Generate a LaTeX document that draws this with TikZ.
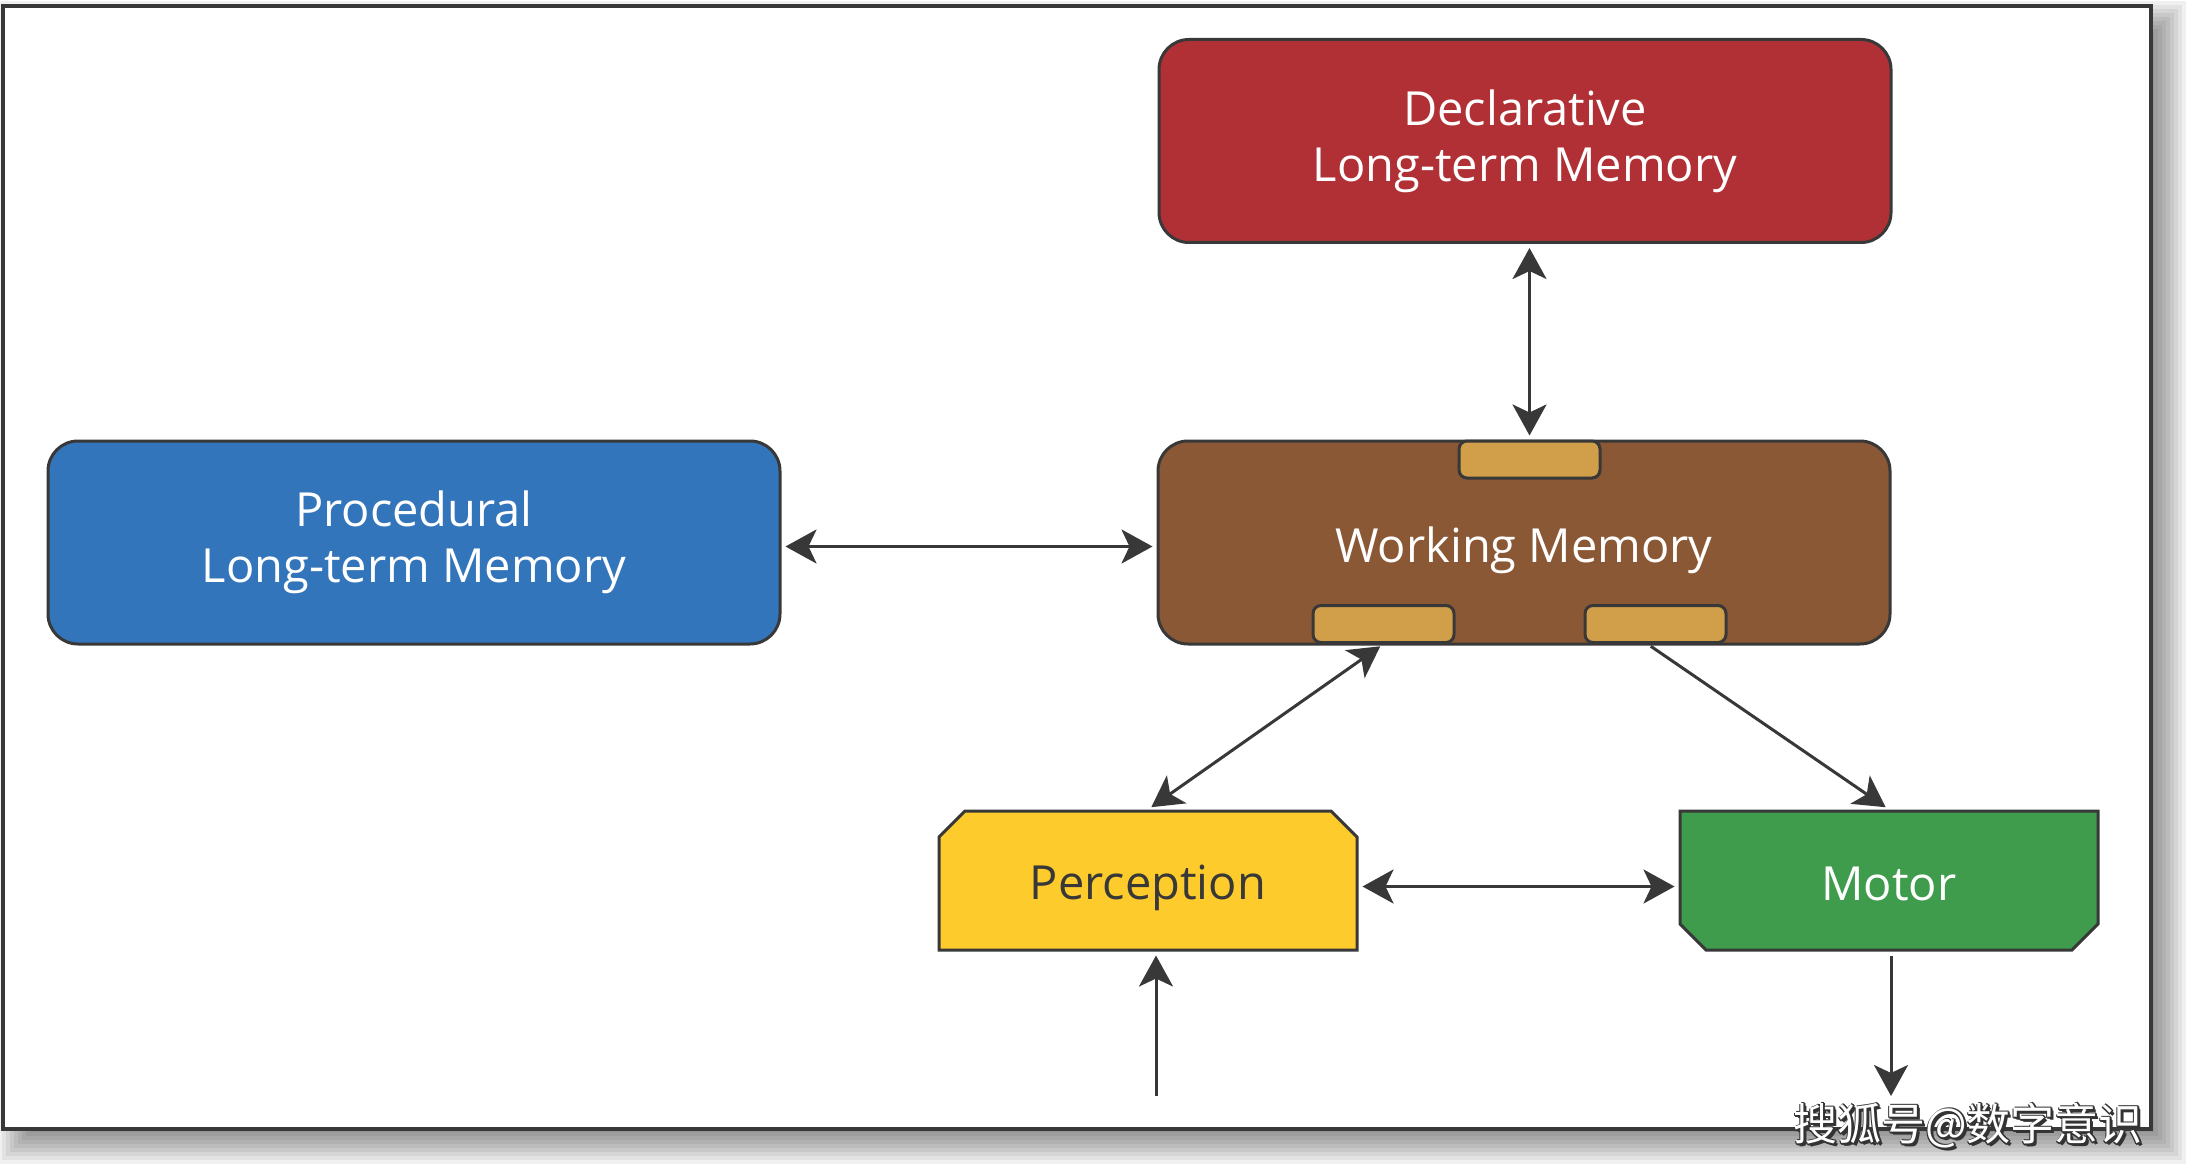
\documentclass[tikz,border=0pt]{standalone}
\usepackage{fontspec}
\setmainfont{Open Sans}
\newfontfamily\cjk{Noto Sans CJK SC}
\usetikzlibrary{arrows.meta,calc,shapes.misc}
\definecolor{lineC}{HTML}{383838}
\definecolor{declC}{HTML}{B03035}
\definecolor{procC}{HTML}{3375BB}
\definecolor{workC}{HTML}{8B5835}
\definecolor{tabC}{HTML}{D19E4A}
\definecolor{percC}{HTML}{FDCB2B}
\definecolor{motC}{HTML}{3E9C4C}
\tikzset{mytip/.tip={Stealth[length=31pt, width=34pt, inset=8pt]}}
\newcommand{\lowertext}[2]{\raisebox{-#1}[\height][\depth]{#2}}
\begin{document}
\begin{tikzpicture}[x=1pt,y=-1pt,
  bigbox/.style={draw=lineC, line width=3pt, rounded corners=30pt,
    minimum width=732pt, minimum height=203pt, text=white, align=center,
    font=\fontsize{47}{56}\selectfont, inner sep=0pt},
  tabbox/.style={draw=lineC, line width=3pt, fill=tabC, rounded corners=8pt,
    minimum width=141pt, minimum height=37pt, inner sep=0pt},
  chbox/.style={draw=lineC, line width=3pt, chamfered rectangle,
    chamfered rectangle xsep=13pt, chamfered rectangle ysep=13pt,
    minimum width=418pt, minimum height=139pt, inner sep=0pt,
    font=\fontsize{47}{56}\selectfont},
  conn/.style={draw=lineC, line width=3pt, shorten <=4pt, shorten >=4pt},
  wmark/.style={font=\cjk\fontsize{44}{50}\selectfont}
]
\useasboundingbox (0,0) rectangle (2200,1174);
% frame shadow
\foreach \k in {0,...,9}{
  \fill[black, opacity=0.06] (18-20+4*\k, 21-20+4*\k) rectangle (2166+20-4*\k, 1144+20-4*\k);
}
\node[draw=lineC, line width=4pt, fill=white, minimum width=2148pt, minimum height=1123pt, inner sep=0pt] (frame) at (1077,567.5) {};

% boxes
\node[bigbox, fill=declC] (decl) at (1525,141) {Declarative\\Long-term Memory};
\node[bigbox, fill=procC] (proc) at (414,542.5) {Procedural\\Long-term Memory};
\node[bigbox, fill=workC] (work) at (1524,542.5) {\lowertext{8pt}{Working Memory}};
\node[tabbox] (tabtop) at (1529.5,459.5) {};
\node[tabbox] (tableft) at (1383.5,624) {};
\node[tabbox] (tabright) at (1655.5,624) {};
\node[chbox, fill=percC, text=lineC, chamfered rectangle corners={north west,north east}] (perc) at (1148,880.5) {\lowertext{7pt}{Perception}};
\node[chbox, fill=motC, text=white, chamfered rectangle corners={south west,south east}] (mot) at (1889,880.5) {\lowertext{3pt}{Motor}};

\coordinate (inp) at (1156,1096);
\coordinate (outp) at (1891,1096);

% connectors
\draw[conn, mytip-mytip] (decl.south -| tabtop.north) -- (tabtop.north);
\draw[conn, mytip-mytip] ([yshift=-4pt]proc.east) -- ([yshift=-4pt]work.west);
\draw[conn, mytip-mytip] (perc.north) -- (tableft.south);
\draw[conn, -mytip] ([xshift=-8pt]tabright.south) -- (mot.north);
\draw[conn, mytip-mytip] ([yshift=-6pt]perc.east) -- ([yshift=-6pt]mot.west);
\draw[conn, shorten <=0pt, -mytip] (inp) -- (inp |- perc.south);
\draw[conn, shorten >=0pt, -mytip] (mot.south -| outp) -- (outp);

% watermark
\foreach \dx/\dy in {2/2,-1/1,1/-1,3/3,0/2,2/0}{
  \node[wmark, text=black!80] at (1968+\dx,1126+\dy) {搜狐号@数字意识};
}
\node[wmark, text=white] (wm) at (1968,1126) {搜狐号@数字意识};
\end{tikzpicture}
\end{document}
